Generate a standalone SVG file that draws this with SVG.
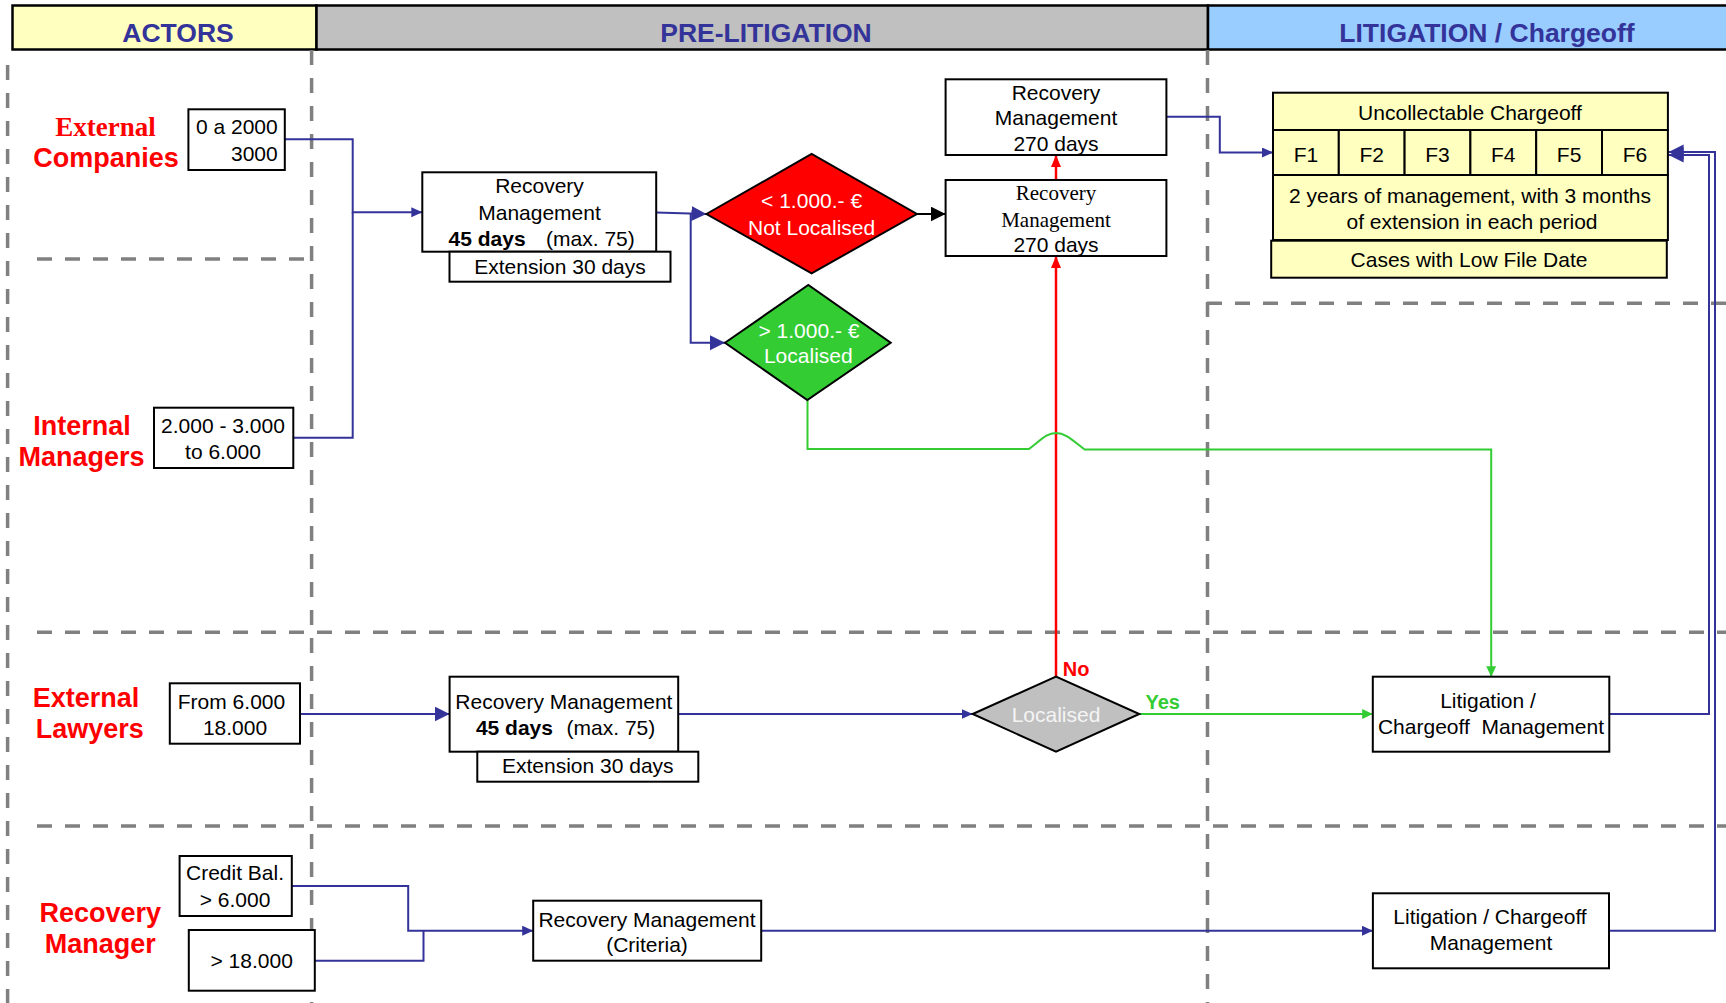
<svg xmlns="http://www.w3.org/2000/svg" width="1726" height="1003" viewBox="0 0 1726 1003">
<style>
.box{fill:#fff;stroke:#000;stroke-width:2}
.yel{fill:#ffffc0;stroke:#000;stroke-width:2}
.t{font-family:"Liberation Sans",Arial,sans-serif;font-size:21px;text-anchor:middle;fill:#000}
.ts{font-family:"Liberation Serif","Times New Roman",serif;font-size:21px;text-anchor:middle;fill:#000}
.hd{font-family:"Liberation Sans",Arial,sans-serif;font-size:26.5px;font-weight:bold;text-anchor:middle;fill:#333399}
.act{font-family:"Liberation Sans",Arial,sans-serif;font-size:27px;font-weight:bold;text-anchor:middle;fill:#ff0000}
.acts{font-family:"Liberation Serif","Times New Roman",serif;font-size:27px;font-weight:bold;text-anchor:middle;fill:#ff0000}
.dash{stroke:#808080;stroke-width:3.5;stroke-dasharray:15 13;fill:none}
.blue{stroke:#333399;stroke-width:2;fill:none}
.red{stroke:#ff0000;stroke-width:2.5;fill:none}
.green{stroke:#33cc33;stroke-width:2;fill:none}
.blk{stroke:#000;stroke-width:2;fill:none}
.lbl{font-family:"Liberation Sans",Arial,sans-serif;font-size:20px;font-weight:bold}
</style>
<defs>
<marker id="bL" markerUnits="userSpaceOnUse" markerWidth="16" markerHeight="16" refX="15" refY="7.5" orient="auto"><path d="M0,0 L15,7.5 L0,15 z" fill="#333399"/></marker>
<marker id="bM" markerUnits="userSpaceOnUse" markerWidth="12" markerHeight="12" refX="11" refY="5" orient="auto"><path d="M0,0 L11,5 L0,10 z" fill="#333399"/></marker>
<marker id="kL" markerUnits="userSpaceOnUse" markerWidth="16" markerHeight="16" refX="15" refY="7.5" orient="auto"><path d="M0,0 L15,7.5 L0,15 z" fill="#000"/></marker>
<marker id="rM" markerUnits="userSpaceOnUse" markerWidth="14" markerHeight="12" refX="12" refY="5" orient="auto"><path d="M0,0 L12,5 L0,10 z" fill="#ff0000"/></marker>
<marker id="gM" markerUnits="userSpaceOnUse" markerWidth="12" markerHeight="12" refX="10.5" refY="5" orient="auto"><path d="M0,0 L10.5,5 L0,10 z" fill="#33cc33"/></marker>
</defs>

<g id="header">
<rect x="12.5" y="5.5" width="304" height="44" fill="#ffffc0" stroke="#000" stroke-width="2.5"/>
<rect x="316.5" y="5.5" width="891.5" height="44" fill="#c0c0c0" stroke="#000" stroke-width="2.5"/>
<rect x="1208" y="5.5" width="530" height="44" fill="#99ccff" stroke="#000" stroke-width="2.5"/>
<text class="hd" x="178" y="42">ACTORS</text>
<text class="hd" x="766" y="42">PRE-LITIGATION</text>
<text class="hd" x="1487" y="42">LITIGATION / Chargeoff</text>
</g>

<g id="lanes">
<line class="dash" x1="7.6" y1="65" x2="7.6" y2="1003"/>
<line class="dash" x1="311.6" y1="50" x2="311.6" y2="1003"/>
<line class="dash" x1="1207.5" y1="50" x2="1207.5" y2="1003"/>
<line class="dash" x1="37" y1="259" x2="305" y2="259"/>
<line class="dash" x1="1207" y1="303.3" x2="1726" y2="303.3"/>
<line class="dash" x1="37" y1="632.3" x2="1726" y2="632.3"/>
<line class="dash" x1="37" y1="826" x2="1726" y2="826"/>
</g>

<g id="actors">
<text class="acts" x="105.5" y="136">External</text>
<text class="act" x="106" y="166.7">Companies</text>
<text class="act" x="82" y="435">Internal</text>
<text class="act" x="81.5" y="465.7">Managers</text>
<text class="act" x="86" y="707">External</text>
<text class="act" x="89.7" y="738">Lawyers</text>
<text class="act" x="100.3" y="921.7">Recovery</text>
<text class="act" x="100.3" y="953.3">Manager</text>
</g>

<g id="connectors">
<path class="blue" d="M284.8,139.3 H352.7 V212.3 H422.3" marker-end="url(#bM)"/>
<path class="blue" d="M293.3,437.7 H352.7 V212.3"/>
<path class="blue" d="M656.2,212.5 L706.4,214" marker-end="url(#bL)"/>
<path class="blue" d="M690.7,213.5 V342.7 H725" marker-end="url(#bL)"/>
<path class="blue" d="M300,714 H449.6" marker-end="url(#bL)"/>
<path class="blue" d="M678.2,714 H972.7" marker-end="url(#bM)"/>
<path class="blue" d="M291.8,886 H408.2 V930.7 H533.2" marker-end="url(#bM)"/>
<path class="blue" d="M314.8,960.7 H423.5 V930.7"/>
<path class="blue" d="M761.2,930.7 H1372.9" marker-end="url(#bM)"/>
<path class="blue" d="M1166.5,116.7 H1219.8 V152.5 H1273" marker-end="url(#bM)"/>
<path class="blue" d="M1609.3,714 H1709 V155 H1668.6" marker-end="url(#bL)"/>
<path class="blue" d="M1609,930.7 H1715 V152 H1668.6" marker-end="url(#bL)"/>
<path class="blk" d="M916.9,214 H945.6" marker-end="url(#kL)"/>
<path class="red" d="M1056,676.7 V256" marker-end="url(#rM)"/>
<path class="red" d="M1056,180 V155" marker-end="url(#rM)"/>
<path class="green" d="M807.5,400 V449 H1029 C1042,439 1047,433 1056,433 C1065,433 1071,439 1084.6,449.5 H1491.2 V676.7" marker-end="url(#gM)"/>
<path class="green" d="M1139.3,714 H1372.7" marker-end="url(#gM)"/>
<text class="lbl" x="1062.7" y="676" fill="#ff0000">No</text>
<text class="lbl" x="1145.5" y="709.3" fill="#33cc33">Yes</text>
</g>

<g id="n-ext-companies">
<rect class="box" x="188.4" y="109.3" width="96.4" height="60.7"/>
<text class="t" x="277.7" y="134" style="text-anchor:end">0 a 2000</text>
<text class="t" x="277.7" y="161" style="text-anchor:end">3000</text>
</g>

<g id="n-int-managers">
<rect class="box" x="154" y="407.7" width="139.3" height="60.3"/>
<text class="t" x="223" y="432.7">2.000 - 3.000</text>
<text class="t" x="223" y="459">to 6.000</text>
</g>

<g id="n-ext-lawyers">
<rect class="box" x="169.8" y="683.3" width="130.2" height="60.4"/>
<text class="t" x="231.5" y="709.3">From 6.000</text>
<text class="t" x="235" y="735">18.000</text>
</g>

<g id="n-credit">
<rect class="box" x="179.6" y="856" width="112.2" height="60"/>
<text class="t" x="235" y="880">Credit Bal.</text>
<text class="t" x="235" y="906.7">&gt; 6.000</text>
</g>

<g id="n-18000">
<rect class="box" x="188.8" y="930" width="126" height="60.7"/>
<text class="t" x="251.7" y="968.3">&gt; 18.000</text>
</g>

<g id="n-rm1">
<rect class="box" x="422.3" y="172.3" width="233.9" height="79.4"/>
<text class="t" x="539.5" y="193.3">Recovery</text>
<text class="t" x="539.5" y="220">Management</text>
<text class="t" x="448.6" y="246" style="text-anchor:start;font-weight:bold">45 days</text>
<text class="t" x="634.8" y="246" style="text-anchor:end">(max. 75)</text>
</g>

<g id="n-ext1">
<rect class="box" x="449.5" y="251.7" width="221" height="30"/>
<text class="t" x="560" y="274">Extension 30 days</text>
</g>

<g id="n-red">
<polygon points="706.4,214 811.6,154 916.9,214 811.6,273.3" fill="#ff0000" stroke="#000" stroke-width="2"/>
<text class="t" x="811.6" y="208.3" style="fill:#fff">&lt; 1.000.- €</text>
<text class="t" x="811.6" y="235" style="fill:#fff">Not Localised</text>
</g>

<g id="n-green">
<polygon points="725,342.7 808.3,285 890.7,342.7 807.3,400" fill="#33cc33" stroke="#000" stroke-width="2"/>
<text class="t" x="809" y="338.3" style="fill:#fff">&gt; 1.000.- €</text>
<text class="t" x="808.3" y="363.3" style="fill:#fff">Localised</text>
</g>

<g id="n-270a">
<rect class="box" x="945.6" y="79.3" width="220.8" height="75.7"/>
<text class="t" x="1056" y="100">Recovery</text>
<text class="t" x="1056" y="125">Management</text>
<text class="t" x="1056" y="150.7">270 days</text>
</g>

<g id="n-270b">
<rect class="box" x="945.6" y="180" width="220.8" height="76"/>
<text class="ts" x="1056" y="200">Recovery</text>
<text class="ts" x="1056" y="226.7">Management</text>
<text class="t" x="1056" y="251.7">270 days</text>
</g>

<g id="n-uncollectable">
<rect class="yel" x="1273" y="92.7" width="394.9" height="37.3"/>
<rect class="yel" x="1273" y="130" width="65.8" height="45"/>
<rect class="yel" x="1338.8" y="130" width="65.8" height="45"/>
<rect class="yel" x="1404.6" y="130" width="65.8" height="45"/>
<rect class="yel" x="1470.4" y="130" width="65.8" height="45"/>
<rect class="yel" x="1536.2" y="130" width="65.8" height="45"/>
<rect class="yel" x="1602" y="130" width="65.9" height="45"/>
<rect class="yel" x="1273" y="175" width="394.9" height="65"/>
<rect class="yel" x="1271.2" y="240.7" width="395.6" height="37"/>
<text class="t" x="1470" y="120">Uncollectable Chargeoff</text>
<text class="t" x="1305.9" y="161.7">F1</text>
<text class="t" x="1371.7" y="161.7">F2</text>
<text class="t" x="1437.5" y="161.7">F3</text>
<text class="t" x="1503.3" y="161.7">F4</text>
<text class="t" x="1569.1" y="161.7">F5</text>
<text class="t" x="1634.9" y="161.7">F6</text>
<text class="t" x="1470" y="202.7">2 years of management, with 3 months</text>
<text class="t" x="1472" y="229.3">of extension in each period</text>
<text class="t" x="1469" y="266.7">Cases with Low File Date</text>
</g>

<g id="n-rm-lawyers">
<rect class="box" x="449.6" y="676.7" width="228.6" height="75"/>
<text class="t" x="563.9" y="709.3">Recovery Management</text>
<text class="t" x="475.9" y="735" style="text-anchor:start;font-weight:bold">45 days</text>
<text class="t" x="655.3" y="735" style="text-anchor:end">(max. 75)</text>
</g>

<g id="n-ext2">
<rect class="box" x="477.3" y="751.7" width="221" height="30"/>
<text class="t" x="587.8" y="773.3">Extension 30 days</text>
</g>

<g id="n-localised">
<polygon points="972.7,714 1056,676.7 1139.3,714 1056,751.7" fill="#c0c0c0" stroke="#000" stroke-width="2"/>
<text class="t" x="1056" y="721.7" style="fill:#f4f4f4">Localised</text>
</g>

<g id="n-lit1">
<rect class="box" x="1372.8" y="676.7" width="236.5" height="75"/>
<text class="t" x="1488" y="708.3">Litigation /</text>
<text class="t" x="1491" y="734">Chargeoff&#160; Management</text>
</g>

<g id="n-criteria">
<rect class="box" x="533.2" y="900.7" width="228" height="60"/>
<text class="t" x="647" y="926.7">Recovery Management</text>
<text class="t" x="647" y="951.7">(Criteria)</text>
</g>

<g id="n-lit2">
<rect class="box" x="1372.9" y="893.3" width="236.1" height="75"/>
<text class="t" x="1490" y="924">Litigation / Chargeoff</text>
<text class="t" x="1491" y="950">Management</text>
</g>
</svg>
